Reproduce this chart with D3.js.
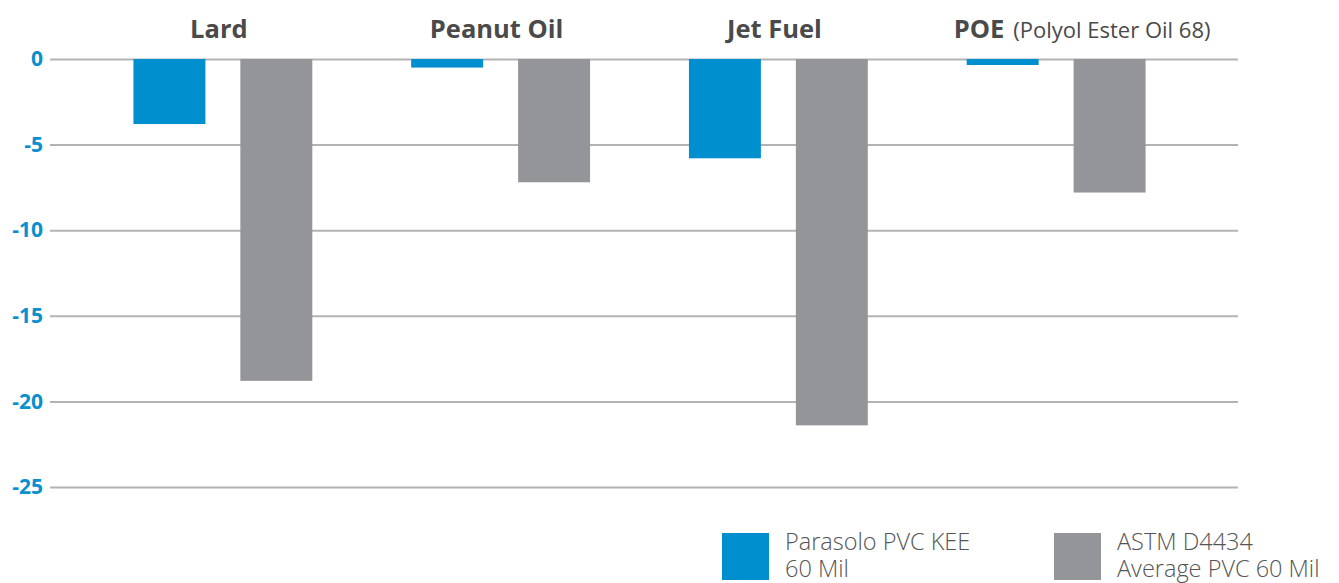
<!DOCTYPE html>
<html>
<head>
<meta charset="utf-8">
<script src="https://cdn.jsdelivr.net/npm/d3@7"></script>
<style>
  body { margin: 0; background: #fff; }
  svg { display: block; }
  .tick text { font-family: "Open Sans", sans-serif; font-weight: 700; font-size: 21px; fill: #0a8fcf; }
</style>
</head>
<body>
<svg id="chart" width="1339" height="583"></svg>
<script>
// chart data
var categories = ['Lard', 'Peanut Oil', 'Jet Fuel', 'POE'];
var subtitles = ['', '', '', '(Polyol Ester Oil 68)'];
var series = ['Parasolo PVC KEE 60 Mil', 'ASTM D4434 Average PVC 60 Mil'];
var legendLines = [['Parasolo PVC KEE', '60 Mil'], ['ASTM D4434', 'Average PVC 60 Mil']];
var parasolo = [-3.8, -0.5, -5.8, -0.35];
var astm = [-18.8, -7.2, -21.4, -7.8];
var yTicks = [0, -5, -10, -15, -20, -25];
var colors = ['#008fce', '#939598'];

var svg = d3.select('#chart');
var left = 50, right = 1238;

var y = d3.scaleLinear().domain([-25, 0]).range([487, 59]);

var x0 = d3.scaleBand()
    .domain(categories)
    .range([84, 1195])
    .paddingInner(0.356)
    .paddingOuter(0.178);

var x1 = d3.scaleBand()
    .domain(series)
    .range([0, x0.bandwidth()])
    .paddingInner(0.327);

// gridlines + tick labels
var yAxis = d3.axisLeft(y)
    .tickValues(yTicks)
    .tickSize(-(right - left))
    .tickPadding(7)
    .tickFormat(d3.format('d'));

var g = svg.append('g')
    .attr('transform', 'translate(' + left + ',0)')
    .call(yAxis);
g.select('.domain').remove();
g.selectAll('.tick line').attr('stroke', '#b3b3b3').attr('stroke-width', 2);
g.selectAll('.tick text').text(function(d) { return d === 0 ? '0' : '-' + Math.abs(d); });

// bars
var rows = categories.map(function(c, i) {
    return { cat: c, vals: [parasolo[i], astm[i]] };
});

var groups = svg.selectAll('.grp')
    .data(rows)
    .enter().append('g')
    .attr('class', 'grp')
    .attr('transform', function(d) { return 'translate(' + x0(d.cat) + ',0)'; });

groups.selectAll('rect')
    .data(function(d) { return d.vals.map(function(v, j) { return { s: series[j], v: v, j: j }; }); })
    .enter().append('rect')
    .attr('x', function(d) { return x1(d.s); })
    .attr('y', y(0))
    .attr('width', x1.bandwidth())
    .attr('height', function(d) { return y(d.v) - y(0); })
    .attr('fill', function(d) { return colors[d.j]; });

// category titles
categories.forEach(function(c, i) {
    var cx = x0(c) + x0.bandwidth() / 2;
    var t = svg.append('text')
        .attr('y', 38)
        .attr('font-family', '"Open Sans", sans-serif')
        .attr('font-size', 25.5)
        .attr('fill', '#4a4a4a');
    if (subtitles[i]) {
        t.attr('x', x0(c) - 13).attr('text-anchor', 'start');
    } else {
        t.attr('x', cx - 4).attr('text-anchor', 'middle');
    }
    t.append('tspan').attr('font-weight', 700).text(c);
    if (subtitles[i]) {
        t.append('tspan').attr('font-size', 22).attr('dx', 9).text(subtitles[i]);
    }
});

// legend
var legendX = [722, 1054];
series.forEach(function(s, i) {
    svg.append('rect')
        .attr('x', legendX[i]).attr('y', 533)
        .attr('width', 47).attr('height', 47)
        .attr('fill', colors[i]);
    legendLines[i].forEach(function(line, k) {
        svg.append('text')
            .attr('x', legendX[i] + 63)
            .attr('y', 550 + k * 27)
            .attr('font-family', '"Open Sans", sans-serif')
            .attr('font-weight', 300)
            .attr('font-size', 23.5)
            .attr('fill', '#555')
            .text(line);
    });
});
</script>
</body>
</html>
